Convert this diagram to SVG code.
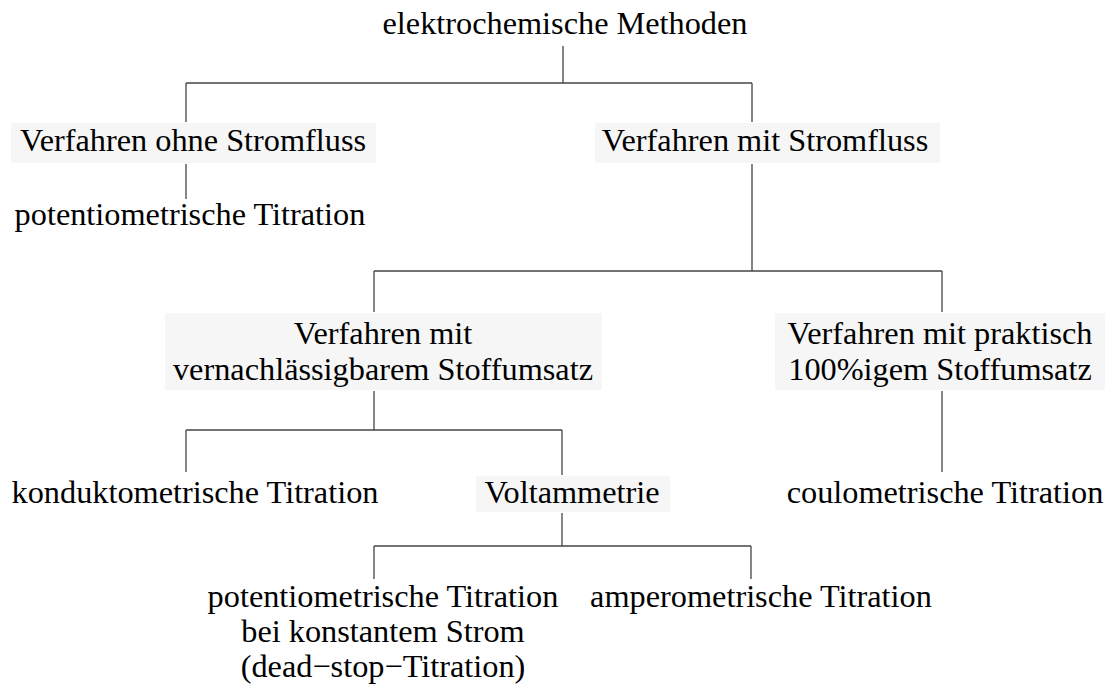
<svg xmlns="http://www.w3.org/2000/svg" width="1109" height="684" viewBox="0 0 1109 684">
<style>
text{font-family:"Liberation Serif","Times New Roman",serif;font-size:32.3px;fill:#000;text-anchor:middle}
.bg{fill:#f6f6f6;stroke:none}
.c line{stroke:#444;stroke-width:1.3}
</style>
<rect width="1109" height="684" fill="#fff"/>
<g class="c" id="connectors">
<line x1="563" y1="46" x2="563" y2="83"/>
<line x1="186" y1="83" x2="752" y2="83"/>
<line x1="186" y1="83" x2="186" y2="122"/>
<line x1="752" y1="83" x2="752" y2="122"/>
<line x1="186" y1="164" x2="186" y2="199"/>
<line x1="752" y1="164" x2="752" y2="271"/>
<line x1="374" y1="271" x2="942" y2="271"/>
<line x1="374" y1="271" x2="374" y2="312"/>
<line x1="942" y1="271" x2="942" y2="312"/>
<line x1="374" y1="391" x2="374" y2="430"/>
<line x1="942" y1="391" x2="942" y2="472"/>
<line x1="186" y1="430" x2="562" y2="430"/>
<line x1="186" y1="430" x2="186" y2="472"/>
<line x1="562" y1="430" x2="562" y2="475"/>
<line x1="562" y1="513" x2="562" y2="546"/>
<line x1="374" y1="546" x2="751" y2="546"/>
<line x1="374" y1="546" x2="374" y2="579"/>
<line x1="751" y1="546" x2="751" y2="579"/>
</g>
<g id="n-root"><text x="565" y="34">elektrochemische Methoden</text></g>
<g id="n-ohne"><rect class="bg" x="11" y="123" width="365" height="40"/><text x="193" y="151">Verfahren ohne Stromfluss</text></g>
<g id="n-pot1"><text x="190" y="225">potentiometrische Titration</text></g>
<g id="n-mit"><rect class="bg" x="595" y="123" width="345" height="40"/><text x="765" y="151">Verfahren mit Stromfluss</text></g>
<g id="n-vern"><rect class="bg" x="165" y="313" width="437" height="77"/><text x="383" y="344">Verfahren mit</text><text x="383" y="380">vernachlässigbarem Stoffumsatz</text></g>
<g id="n-prakt"><rect class="bg" x="775" y="313" width="330" height="77"/><text x="940" y="344">Verfahren mit praktisch</text><text x="940" y="380">100%igem Stoffumsatz</text></g>
<g id="n-kond"><text x="195" y="503">konduktometrische Titration</text></g>
<g id="n-volt"><rect class="bg" x="476" y="476" width="194" height="36"/><text x="572" y="503">Voltammetrie</text></g>
<g id="n-coul"><text x="945" y="503">coulometrische Titration</text></g>
<g id="n-pot2"><text x="383" y="607">potentiometrische Titration</text><text x="383" y="642">bei konstantem Strom</text><text x="383" y="677">(dead−stop−Titration)</text></g>
<g id="n-amp"><text x="761" y="607">amperometrische Titration</text></g>
</svg>
